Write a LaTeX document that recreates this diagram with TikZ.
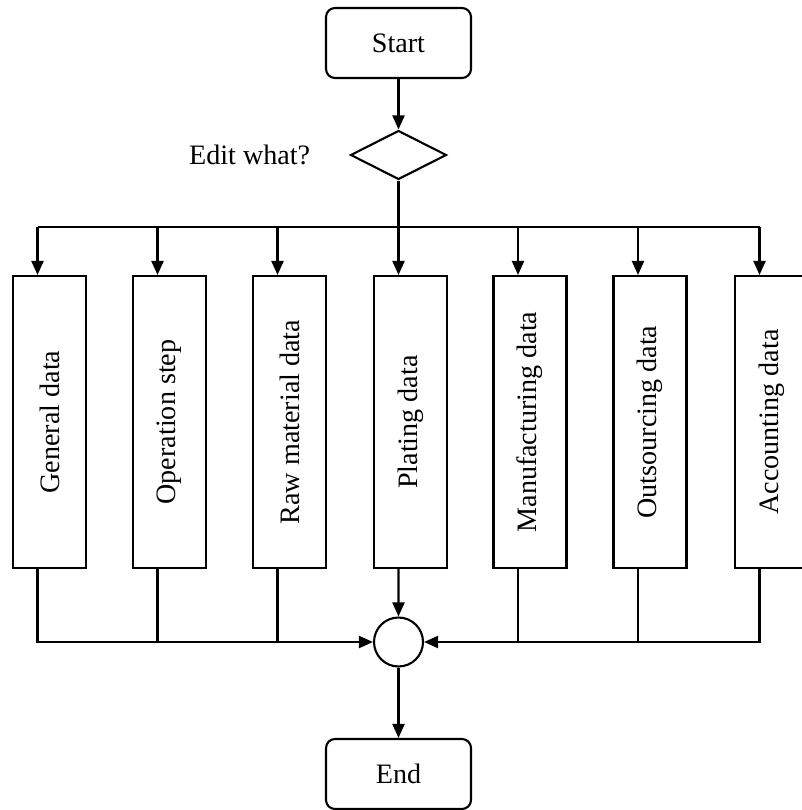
\documentclass[tikz,border=0pt]{standalone}
\usepackage{fontspec}
\setmainfont{Liberation Serif}
\usetikzlibrary{arrows.meta,shapes.geometric,positioning}

\tikzset{
    flow/.style={line width=1.2pt},
    arr/.style={flow, -{Triangle[length=0.28cm,width=0.24cm]}},
    term/.style={draw, line width=1.2pt, rounded corners=0.18cm, minimum width=2.9cm, minimum height=1.4cm},
    decision/.style={draw, line width=1.2pt, diamond, aspect=2, inner sep=0pt, minimum width=1.92cm, minimum height=0.98cm},
    datbox/.style={draw, line width=1.2pt, inner sep=0pt, minimum width=1.46cm, minimum height=5.84cm},
    joint/.style={draw, line width=1.2pt, circle, inner sep=0pt, minimum size=0.98cm},
}

\begin{document}
\begin{tikzpicture}[x=0.02cm, y=-0.02cm, font=\fontsize{16pt}{19pt}\selectfont]
    \useasboundingbox (0,0) rectangle (801,810);

    \node[term] (start) at (398.5,43) {Start};
    \node[decision] (edit) at (398.5,155) {};
    \node[inner sep=0pt, left=0.78cm of edit] (ask) {Edit what?};

    \node[datbox] (general) at (49.5,422) {\rotatebox{90}{General data}};
    \node[datbox] (operation) at (169.5,422) {\rotatebox{90}{Operation step}};
    \node[datbox] (raw) at (289.5,422) {\rotatebox{90}{Raw material data}};
    \node[datbox] (plating) at (410.5,422) {\rotatebox{90}{Plating data}};
    \node[datbox] (manufacturing) at (530,422) {\rotatebox{90}{Manufacturing data}};
    \node[datbox] (outsourcing) at (650,422) {\rotatebox{90}{Outsourcing data}};
    \node[datbox] (accounting) at (771.5,422) {\rotatebox{90}{Accounting data}};

    \node[joint] (join) at (398.5,642) {};
    \node[term] (end) at (398.5,774) {End};

    % bus above and below the boxes
    \coordinate (bus) at (398.5,227);
    \path ([xshift=-0.24cm]general.north) coordinate (in1)
          ([xshift=-0.24cm]operation.north) coordinate (in2)
          ([xshift=-0.24cm]raw.north) coordinate (in3)
          ([xshift=-0.24cm]plating.north) coordinate (in4)
          ([xshift=-0.24cm]manufacturing.north) coordinate (in5)
          ([xshift=-0.24cm]outsourcing.north) coordinate (in6)
          ([xshift=-0.24cm]accounting.north) coordinate (in7);
    \path ([xshift=-0.24cm]general.south) coordinate (out1)
          ([xshift=-0.24cm]operation.south) coordinate (out2)
          ([xshift=-0.24cm]raw.south) coordinate (out3)
          ([xshift=-0.24cm]plating.south) coordinate (out4)
          ([xshift=-0.24cm]manufacturing.south) coordinate (out5)
          ([xshift=-0.24cm]outsourcing.south) coordinate (out6)
          ([xshift=-0.24cm]accounting.south) coordinate (out7);

    \draw[arr] (start) -- (edit);
    \draw[flow] (edit.south) -- (bus);
    \draw[flow] (in1 |- bus) -- (in7 |- bus);
    \draw[arr] (in1 |- bus) -- (in1);
    \draw[arr] (in2 |- bus) -- (in2);
    \draw[arr] (in3 |- bus) -- (in3);
    \draw[arr] (in4 |- bus) -- (in4);
    \draw[arr] (in5 |- bus) -- (in5);
    \draw[arr] (in6 |- bus) -- (in6);
    \draw[arr] (in7 |- bus) -- (in7);

    \draw[arr] (out1) |- (join.west);
    \draw[flow] (out2) -- (out2 |- join.west);
    \draw[flow] (out3) -- (out3 |- join.west);
    \draw[arr] (out4) -- (join.north);
    \draw[flow] (out5) -- (out5 |- join.east);
    \draw[flow] (out6) -- (out6 |- join.east);
    \draw[arr] (out7) |- (join.east);
    \draw[arr] (join) -- (end);
\end{tikzpicture}
\end{document}
